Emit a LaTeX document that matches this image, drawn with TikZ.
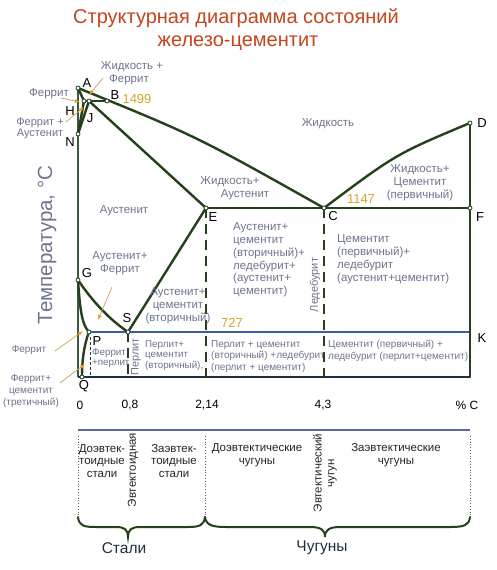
\documentclass[tikz,border=0pt]{standalone}
\usepackage{fontspec}
\setmainfont{Liberation Sans}
\usetikzlibrary{arrows.meta}
\definecolor{ttl}{HTML}{C4461F}
\definecolor{lbl}{HTML}{6F7490}
\definecolor{yel}{HTML}{D6A52A}
\definecolor{grn}{HTML}{24401C}
\definecolor{axc}{HTML}{3A5A44}
\definecolor{blu}{HTML}{3A5CA0}
\definecolor{navy}{HTML}{1F2F3F}
\definecolor{tan}{HTML}{C8AA66}
\definecolor{org}{HTML}{EE9A1E}
\definecolor{vio}{HTML}{5E66A4}
\tikzset{
  phase/.style={grn, line width=2.4pt, line cap=round, line join=round},
  axisln/.style={axc, line width=1.6pt},
  dashln/.style={grn, line width=2pt, dash pattern=on 10pt off 6pt},
  thindash/.style={grn, line width=0.8pt, dash pattern=on 3pt off 2pt},
  ptc/.style={circle, draw=grn, fill=white, line width=0.8pt, inner sep=0pt, minimum size=4pt},
  plabel/.style={text=black, font=\fontsize{13}{13}\selectfont, inner sep=0pt},
  region/.style={text=lbl, font=\fontsize{11.5}{13}\selectfont, inner sep=0pt, align=center},
  small/.style={text=lbl, font=\fontsize{9.8}{10.6}\selectfont, inner sep=0pt, align=left},
  boxlbl/.style={text=lbl, font=\fontsize{10}{11.5}\selectfont, inner sep=0pt, align=left},
  num/.style={text=yel, font=\fontsize{13}{13}\selectfont, inner sep=0pt},
  tick/.style={text=black, font=\fontsize{12}{12}\selectfont, inner sep=0pt},
  bot/.style={text=black!85, font=\fontsize{11.5}{12.8}\selectfont, inner sep=0pt, align=center},
  big/.style={text=navy, font=\fontsize{15.5}{15.5}\selectfont, inner sep=0pt},
  pointer/.style={tan, line width=0.8pt, -{Latex[length=5pt,width=4pt,color=org]}},
  brace/.style={grn, line width=2pt, line cap=round},
  dotv/.style={black!60, line width=0.8pt, dotted}
}
\begin{document}
\begin{tikzpicture}[x=1pt,y=-1pt]
\useasboundingbox (0,0) rectangle (497,570);
\fill[white] (0,0) rectangle (497,570);

% title
\node[text=ttl, font=\fontsize{20}{20}\selectfont, inner sep=0pt] (title1) at (236,18) {Структурная диаграмма состояний};
\node[text=ttl, font=\fontsize{20}{20}\selectfont, inner sep=0pt] (title2) at (238,43) {железо-цементит};

% key points
\coordinate (A) at (78,88);
\coordinate (H) at (84,101);
\coordinate (J) at (89,101);
\coordinate (B) at (107,101);
\coordinate (N) at (78,134);
\coordinate (E) at (206,208);
\coordinate (C) at (324,208);
\coordinate (F) at (470,208);
\coordinate (D) at (470,123);
\coordinate (G) at (78,280);
\coordinate (S) at (128,332);
\coordinate (P) at (89,332);
\coordinate (K) at (470,332);
\coordinate (Q) at (82,377);
\coordinate (O) at (78,377);
\coordinate (R) at (470,377);
\coordinate (E0) at (206,377);
\coordinate (C0) at (324,377);
\coordinate (S0) at (128,377);
\coordinate (T1) at (90,337);
\coordinate (T0) at (90,377);

% axis and frame
\draw[axisln] (A) -- (O);
\draw[navy, line width=1.8pt] (O) -- (R);
\draw[blu, line width=1.8pt] (P) -- (K);

% dashed lines
\draw[dashln] (E) -- (E0);
\draw[dashln] (C) -- (C0);
\draw[dashln] (S) -- (S0);
\draw[thindash] (T1) -- (T0);

% phase lines
\draw[phase] (A) .. controls (196,136) .. (C);
\draw[phase] (C) .. controls (396,154) .. (D);
\draw[phase] (H) -- (B);
\draw[phase] (A) -- (H) -- (N);
\draw[phase] (J) -- (N);
\draw[phase] (J) -- (E);
\draw[phase] (E) -- (F);
\draw[phase] (D) -- (F) -- (R);
\draw[phase] (E) -- (S);
\draw[phase] (G) .. controls (93,302) and (109,319) .. (S);
\draw[phase] (G) .. controls (80,310) and (82,325) .. (P);
\draw[phase] (P) .. controls (84,345) and (82,360) .. (Q);

% point circles
\foreach \p in {A,H,J,B,N,E,C,F,D,G,S,P,Q}
  \node[ptc] (c\p) at (\p) {};

% point labels
\node[plabel] (lA) at (87,83) {A};
\node[plabel] (lB) at (115,95) {B};
\node[plabel] (lH) at (70,111) {H};
\node[plabel] (lJ) at (90,118) {J};
\node[plabel] (lN) at (70,142) {N};
\node[plabel] (lD) at (482,123) {D};
\node[plabel] (lF) at (480,217) {F};
\node[plabel] (lC) at (333,216) {C};
\node[plabel] (lE) at (213,217) {E};
\node[plabel] (lK) at (482,338) {K};
\node[plabel] (lG) at (87,273) {G};
\node[plabel] (lS) at (127,318) {S};
\node[plabel] (lP) at (97,341) {P};
\node[plabel] (lQ) at (84,386) {Q};

% numbers
\node[num] (n1499) at (137,99) {1499};
\node[num] (n1147) at (361,199) {1147};
\node[num] (n727) at (232,323) {727};

% axis label
\node[text=lbl, font=\fontsize{20.5}{20.5}\selectfont, inner sep=0pt, rotate=90] (tlab) at (47,245) {Температура, °С};

% region labels
\node[region] (rLF) at (132,73.5) {Жидкость +\\\hspace*{-6pt}Феррит};
\node[region] (rF1) at (49,94) {Феррит};
\node[region, font=\fontsize{11}{11}\selectfont] (rFA) at (40,128) {Феррит +\\Аустенит};
\node[region] (rL) at (328,124) {Жидкость};
\node[region] (rA) at (124,211) {Аустенит};
\node[region] (rLA1) at (230,182) {Жидкость+};
\node[region] (rLA2) at (245,195) {Аустенит};
\node[region] (rLC) at (420,182.5) {Жидкость+\\Цементит\\(первичный)};
\node[region] (rAF) at (120,263.5) {Аустенит+\\Феррит};
\node[region] (rAC) at (178,306) {Аустенит+\\цементит\\(вторичный)};
\node[region, align=left, anchor=west, font=\fontsize{11.5}{12.8}\selectfont] (rACL) at (233,260) {Аустенит+\\цементит\\(вторичный)+\\ледебурит+\\(аустенит+\\цементит)};
\node[region, align=left, anchor=west] (rCL) at (337,259) {Цементит\\(первичный)+\\ледебурит\\(аустенит+цементит)};
\node[region, rotate=90, font=\fontsize{11}{11}\selectfont] (rLed) at (315,285) {Ледебурит};

% box row labels
\node[small, anchor=west] (bFP) at (92,358) {Феррит\\+перлит};
\node[region, rotate=90, font=\fontsize{11}{11}\selectfont] (bP) at (136,357) {Перлит};
\node[small, anchor=west] (bPC) at (145,355.5) {Перлит+\\цементит\\(вторичный),};
\node[boxlbl, anchor=west] (bPCL) at (211,356.5) {Перлит + цементит\\(вторичный) +ледебурит\\(перлит + цементит)};
\node[boxlbl, anchor=west] (bCPL) at (328,351) {Цементит (первичный) +\\ледебурит (перлит+цементит)};

% lower-left labels
\node[region, font=\fontsize{10}{10}\selectfont] (lF2) at (29,350) {Феррит};
\node[region, font=\fontsize{10}{12}\selectfont] (lFC) at (31,391) {Феррит+\\цементит\\(третичный)};

% pointers
\coordinate (p1s) at (61,98);  \coordinate (p1e) at (80,102);
\coordinate (p2s) at (103,78); \coordinate (p2e) at (89,95);
\coordinate (p3s) at (66,122); \coordinate (p3e) at (84,107);
\coordinate (p4s) at (55,351); \coordinate (p4e) at (83,331);
\coordinate (p5s) at (60,383); \coordinate (p5e) at (85,364);
\coordinate (p6s) at (112,287); \coordinate (p6e) at (98,320);
\draw[pointer] (p1s) -- (p1e);
\draw[pointer] (p2s) -- (p2e);
\draw[pointer] (p3s) -- (p3e);
\draw[pointer] (p4s) -- (p4e);
\draw[pointer] (p5s) -- (p5e);
\draw[pointer] (p6s) -- (p6e);

% ticks
\node[tick] (x0) at (80,405) {0};
\node[tick] (x1) at (130,405) {0,8};
\node[tick] (x2) at (207,405) {2,14};
\node[tick] (x3) at (323,405) {4,3};
\node[tick] (x4) at (467,405) {\% C};

% bottom classification
\coordinate (bl) at (78,430);
\coordinate (br) at (470,430);
\draw[vio, line width=2pt] (bl) -- (br);
\coordinate (v1a) at (78,436); \coordinate (v1b) at (78,516);
\coordinate (v2a) at (205,436); \coordinate (v2b) at (205,516);
\coordinate (v3a) at (470,436); \coordinate (v3b) at (470,516);
\draw[dotv] (v1a) -- (v1b);
\draw[dotv] (v2a) -- (v2b);
\draw[dotv] (v3a) -- (v3b);

\node[bot] (s1) at (102,461) {Доэвтек-\\тоидные\\стали};
\node[bot, rotate=90] (s2) at (133,470) {Эвтектоидная};
\node[bot] (s3) at (174,461) {Заэвтек-\\тоидные\\стали};
\node[bot] (c1) at (257,455) {Доэвтектические\\чугуны};
\node[bot, rotate=90] (c2) at (325,473) {Эвтектический\\чугун};
\node[bot] (c3) at (396,455) {Заэвтектические\\чугуны};

% braces
\coordinate (b1l) at (78,517);
\coordinate (b1t) at (128,537);
\coordinate (b1r) at (205,517);
\coordinate (b2t) at (325,537);
\coordinate (b2r) at (470,517);
\draw[brace] (b1l) .. controls (79,526) and (84,527) .. (96,527) -- (116,527)
  .. controls (125,527) and (128,530) .. (b1t)
  .. controls (128,530) and (131,527) .. (140,527) -- (188,527)
  .. controls (200,527) and (204,525) .. (b1r);
\draw[brace] (b1r) .. controls (206,525) and (212,527) .. (226,527) -- (310,527)
  .. controls (321,527) and (325,530) .. (b2t)
  .. controls (325,530) and (329,527) .. (340,527) -- (450,527)
  .. controls (465,527) and (469,525) .. (b2r);

\node[big] (st) at (124,548) {Стали};
\node[big] (ch) at (322,548) {Чугуны};
\end{tikzpicture}
\end{document}
